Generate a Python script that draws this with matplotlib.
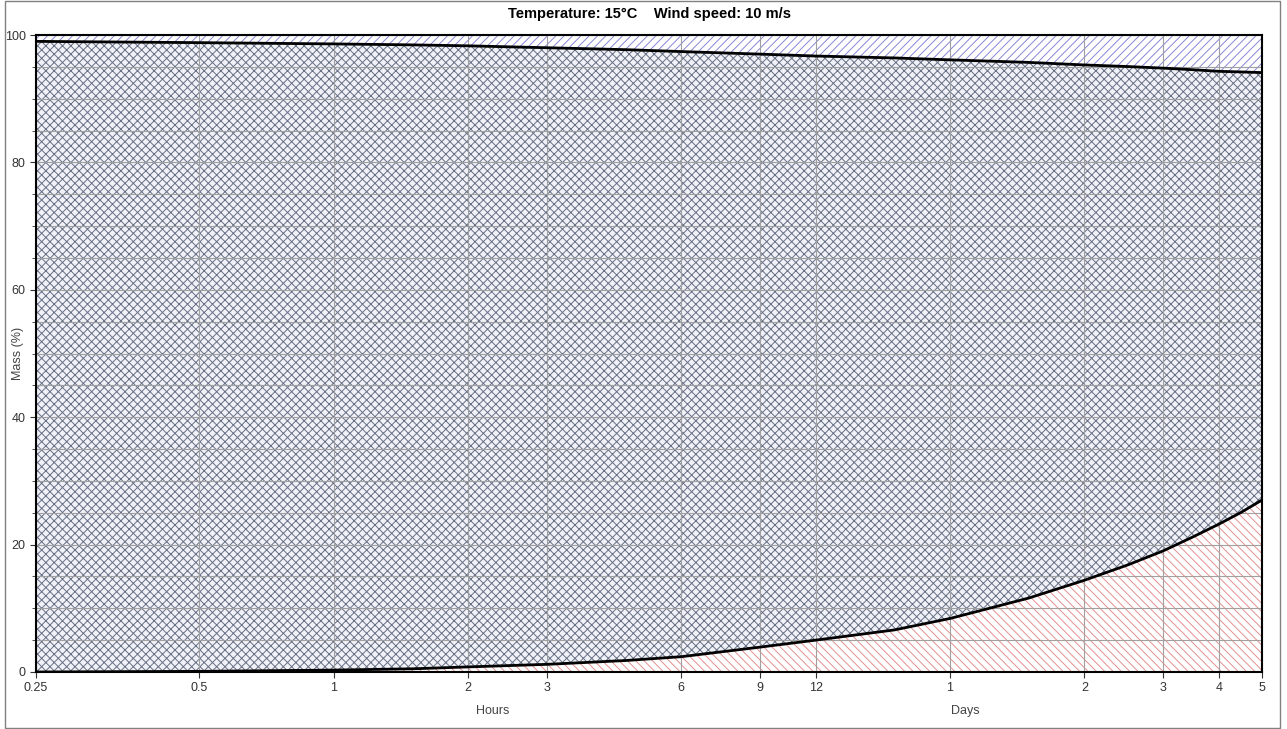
import numpy as np
import matplotlib
matplotlib.use("Agg")
import matplotlib.pyplot as plt
from matplotlib.patches import Rectangle

plt.rcParams['font.family'] = ['Liberation Sans', 'DejaVu Sans']
plt.rcParams['hatch.linewidth'] = 0.7

# time in hours and mass fractions (%)
hours = [0.25, 0.5, 1, 1.5, 2, 3, 4.5, 6, 9, 12, 18, 24, 36, 48, 60, 72, 84, 96, 108, 120]
upper = [99.0, 98.8, 98.6, 98.45, 98.3, 98.0, 97.7, 97.4, 97.0, 96.7, 96.4, 96.1, 95.7,
         95.3, 95.05, 94.8, 94.55, 94.3, 94.2, 94.1]
lower = [0.0, 0.1, 0.3, 0.5, 0.8, 1.2, 1.8, 2.4, 3.9, 5.0, 6.6, 8.4, 11.6, 14.4, 16.8,
         19.0, 21.2, 23.2, 25.1, 27.0]

tick_hours = [0.25, 0.5, 1, 2, 3, 6, 9, 12, 24, 48, 72, 96, 120]
tick_labels = ['0.25', '0.5', '1', '2', '3', '6', '9', '12', '1', '2', '3', '4', '5']

title = "Temperature: 15°C    Wind speed: 10 m/s"

# log2 axis, with the first (0.25-0.5 h) interval stretched like the original
K = 163 / 134


def fwd(x):
    x = np.asarray(x, dtype=float)
    lx = np.log2(np.clip(x, 1e-6, None))
    return np.where(lx >= -1, lx, -1 + K * (lx + 1))


def inv(y):
    y = np.asarray(y, dtype=float)
    return np.where(y >= -1, 2.0 ** y, 2.0 ** (-1 + (y + 1) / K))


fig = plt.figure(figsize=(12.87, 7.29), dpi=100)
ax = fig.add_axes([36 / 1287, 1 - 672 / 729, 1226 / 1287, 637 / 729])
ax.set_xscale('function', functions=(fwd, inv))

ax.fill_between(hours, upper, 100, facecolor='white', edgecolor='#8886d6',
                hatch='////', linewidth=0, zorder=1)
ax.fill_between(hours, lower, upper, facecolor='#f0f2f8', edgecolor='#687084',
                hatch='xxxx', linewidth=0, zorder=1)
ax.fill_between(hours, 0, lower, facecolor='white', edgecolor='#e39090',
                hatch='\\\\\\\\', linewidth=0, zorder=1)
ax.plot(hours, upper, color='black', lw=2, zorder=4)
ax.plot(hours, lower, color='black', lw=2, zorder=4)

ax.set_xlim(0.25, 120)
ax.set_ylim(0, 100)
ax.set_xticks(tick_hours)
ax.set_xticklabels(tick_labels)
ax.set_xticks([], minor=True)
ax.set_yticks(range(0, 101, 20))
ax.set_yticks(range(0, 101, 5), minor=True)

ax.grid(True, which='major', axis='x', color='#a0a0a0', lw=0.8, zorder=3)
ax.grid(True, which='both', axis='y', color='#a0a0a0', lw=0.8, zorder=3)
ax.set_axisbelow(False)

ax.tick_params(axis='both', which='major', labelsize=9, colors='#333333', length=4)
ax.tick_params(axis='y', which='minor', length=3, color='#333333')
for s in ax.spines.values():
    s.set_linewidth(1.5)
    s.set_zorder(5)

fig.text(18 / 1287, 1 - 353 / 729, "Mass (%)", fontsize=9, color='#444444',
         ha='center', va='center', rotation=90)
fig.text(493 / 1287, 1 - 711 / 729, "Hours", fontsize=9, color='#444444',
         ha='center', va='center')
fig.text(965 / 1287, 1 - 711 / 729, "Days", fontsize=9, color='#444444',
         ha='center', va='center')
fig.text(649 / 1287, 1 - 14 / 729, title, fontsize=10.5, fontweight='bold',
         ha='center', va='center')

# thin frame around the whole picture
fig.patches.append(Rectangle((5 / 1287, 0.002), 1275 / 1287, 0.996, transform=fig.transFigure,
                             fill=False, edgecolor='#808080', lw=1))

fig.savefig('out.png', dpi=100)
